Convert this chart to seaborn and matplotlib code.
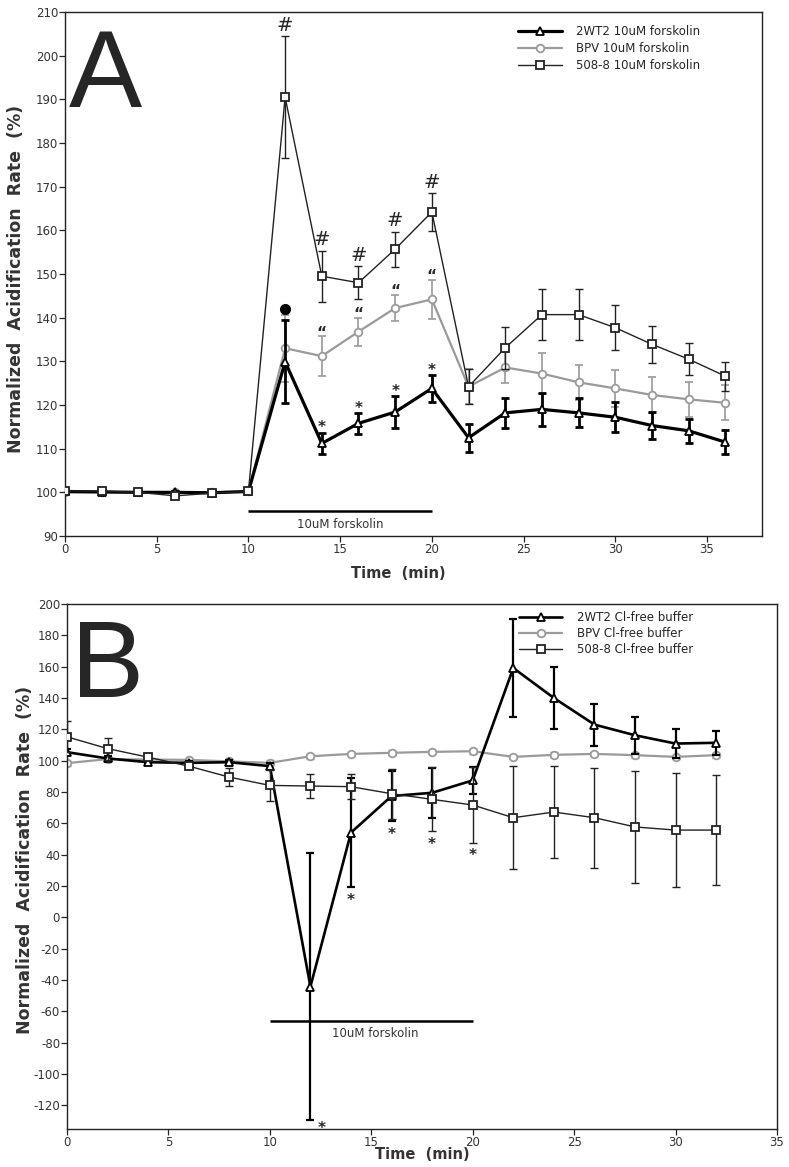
import numpy as np
import pandas as pd
import matplotlib
matplotlib.use("Agg")
import matplotlib.pyplot as plt
import seaborn as sns

# panel A: 10uM forskolin
time_a = [0, 2, 4, 6, 8, 10, 12, 14, 16, 18, 20, 22, 24, 26, 28, 30, 32, 34, 36]
wt_a = [100.2, 100.1, 100.0, 100.0, 99.9, 100.2, 129.9, 111.2, 115.8, 118.4, 123.8,
        112.5, 118.2, 119.0, 118.2, 117.2, 115.3, 114.1, 111.5]
wt_a_err = [0.4, 0.4, 0.3, 0.4, 0.3, 0.3, 9.5, 2.5, 2.4, 3.7, 3.0,
            3.2, 3.4, 3.7, 3.3, 3.4, 3.0, 2.8, 2.7]
bpv_a = [100.0, 100.0, 100.0, 100.0, 100.0, 100.2, 133.0, 131.2, 136.8, 142.2, 144.2,
         124.2, 128.6, 127.2, 125.2, 123.8, 122.3, 121.3, 120.5]
bpv_a_err = [0.3, 0.3, 0.3, 0.3, 0.3, 0.3, 7.7, 4.5, 3.2, 3.0, 4.5,
             4.0, 3.5, 4.6, 4.0, 4.2, 4.2, 4.0, 4.0]
sq_a = [100.3, 100.3, 100.0, 99.2, 99.8, 100.2, 190.5, 149.5, 148.0, 155.7, 164.2,
        124.2, 133.1, 140.7, 140.7, 137.7, 133.9, 130.5, 126.6]
sq_a_err = [0.3, 0.3, 0.3, 0.3, 0.3, 0.3, 14.0, 5.8, 3.8, 4.0, 4.3,
            4.0, 4.8, 5.8, 5.8, 5.2, 4.3, 3.7, 3.3]
labels_a = ["2WT2 10uM forskolin", "BPV 10uM forskolin", "508-8 10uM forskolin"]
hash_times_a = [12, 14, 16, 18, 20]
quote_times_a = [14, 16, 18, 20]
dot_times_a = [12]
star_times_a = [14, 16, 18, 20]

# panel B: Cl-free buffer
time_b = [0, 2, 4, 6, 8, 10, 12, 14, 16, 18, 20, 22, 24, 26, 28, 30, 32]
wt_b = [105.4, 101.4, 99.0, 98.6, 99.0, 96.5, -44.2, 54.1, 77.4, 79.5, 87.4,
        159.1, 140.0, 123.0, 116.2, 110.9, 111.4]
wt_b_err = [2.0, 1.5, 1.0, 1.0, 1.5, 2.0, 85.0, 35.0, 16.0, 16.0, 8.5,
            31.0, 20.0, 13.4, 11.9, 9.0, 7.5]
bpv_b = [98.4, 101.0, 100.7, 100.5, 99.5, 98.6, 102.8, 104.3, 105.0, 105.6, 106.0,
         102.4, 103.7, 104.3, 103.5, 102.4, 103.5]
bpv_b_err = [1.5] * 17
sq_b = [115.2, 107.7, 102.2, 96.5, 89.5, 84.2, 83.8, 83.4, 78.9, 75.3, 71.7,
        63.6, 67.2, 63.6, 57.7, 55.7, 55.7]
sq_b_err = [10.0, 7.0, 2.0, 2.0, 5.5, 10.0, 7.4, 8.0, 16.0, 20.5, 24.0,
            33.0, 29.5, 32.0, 36.0, 36.6, 35.0]
labels_b = ["2WT2 Cl-free buffer", "BPV Cl-free buffer", "508-8 Cl-free buffer"]
star_times_b = [12, 14, 16, 18, 20]

sns.set_style("ticks")
plt.rcParams['font.family'] = ['DejaVu Sans']
plt.rcParams['axes.unicode_minus'] = False

GRAY = "#9a9a9a"
DARK = "#333333"


def draw_series(ax, t, y, err, label, color, lw, marker, ms, elw, z):
    df = pd.DataFrame({"t": t, "y": y})
    ax.errorbar(t, y, yerr=err, fmt="none", ecolor=color, elinewidth=elw,
                capsize=3, capthick=elw, zorder=z)
    sns.lineplot(data=df, x="t", y="y", ax=ax, color=color, lw=lw, marker=marker,
                 markersize=ms, markerfacecolor="white", markeredgecolor=color,
                 markeredgewidth=1.3, label=label, zorder=z + 0.5)


def style_axes(ax, xlim, ylim, yticks, xlab_pos, ylab_pos):
    ax.set_xlim(*xlim)
    ax.set_ylim(*ylim)
    ax.set_xticks(range(0, 36, 5))
    ax.set_yticks(yticks)
    ax.tick_params(labelsize=8.5, labelcolor=DARK, length=4, width=0.9, pad=1)
    for s in ax.spines.values():
        s.set_visible(True)
        s.set_linewidth(1.0)
        s.set_color("#222222")
    ax.set_xlabel("Time  (min)", fontsize=10.5, fontweight="bold", color=DARK)
    ax.set_ylabel("Normalized  Acidification  Rate  (%)", fontsize=12.5,
                  fontweight="bold", color=DARK)
    ax.xaxis.set_label_coords(*xlab_pos)
    ax.yaxis.set_label_coords(*ylab_pos)


fig = plt.figure(figsize=(7.89, 11.67), dpi=100)
ax_a = fig.add_axes([0.0824, 0.5407, 0.8834, 0.4490])
ax_b = fig.add_axes([0.0849, 0.0326, 0.8999, 0.4499])

# ---- panel A ----
draw_series(ax_a, time_a, bpv_a, bpv_a_err, labels_a[1], GRAY, 1.6, "o", 5.5, 1.2, 2)
draw_series(ax_a, time_a, wt_a, wt_a_err, labels_a[0], "black", 2.3, "^", 5.5, 2.0, 3)
draw_series(ax_a, time_a, sq_a, sq_a_err, labels_a[2], "#222222", 1.0, "s", 6, 1.0, 4)
style_axes(ax_a, (0, 38), (90, 210), range(90, 211, 10), (0.478, -0.057), (-0.058, 0.491))

for t in hash_times_a:
    i = time_a.index(t)
    ax_a.annotate("#", (t, sq_a[i] + sq_a_err[i]), xytext=(0, 1), textcoords="offset points",
                  ha="center", va="bottom", fontsize=14)
for t in quote_times_a:
    i = time_a.index(t)
    ax_a.annotate("\u201c", (t, bpv_a[i] + bpv_a_err[i]), xytext=(0, -3), textcoords="offset points",
                  ha="center", va="bottom", fontsize=11, fontweight="bold")
for t in dot_times_a:
    i = time_a.index(t)
    ax_a.plot(t, bpv_a[i] + bpv_a_err[i] + 1.4, "o", color="black", ms=7, zorder=6)
for t in star_times_a:
    i = time_a.index(t)
    ax_a.annotate("*", (t, wt_a[i] + wt_a_err[i]), xytext=(0, -2), textcoords="offset points",
                  ha="center", va="bottom", fontsize=11, fontweight="bold")

ax_a.hlines(95.7, 10, 20, color="black", lw=1.8)
ax_a.text(15, 92.6, "10uM forskolin", ha="center", va="center", fontsize=8.5, color=DARK)
ax_a.text(0.006, 0.819, "A", transform=ax_a.transAxes, fontsize=79,
          family=["Liberation Sans"], va="baseline", ha="left")

h, l = ax_a.get_legend_handles_labels()
order = [l.index(s) for s in labels_a]
ax_a.legend([h[i] for i in order], [l[i] for i in order], loc="upper left",
            bbox_to_anchor=(0.642, 0.987), frameon=False, fontsize=8.5, borderpad=0,
            handlelength=3.7, handletextpad=1.2, labelspacing=0.35)

# ---- panel B ----
draw_series(ax_b, time_b, bpv_b, bpv_b_err, labels_b[1], GRAY, 1.6, "o", 5.5, 1.0, 2)
draw_series(ax_b, time_b, wt_b, wt_b_err, labels_b[0], "black", 1.9, "^", 5.5, 1.6, 3)
draw_series(ax_b, time_b, sq_b, sq_b_err, labels_b[2], "#222222", 1.0, "s", 6, 1.0, 4)
style_axes(ax_b, (0, 35), (-135, 200), range(-120, 201, 20), (0.5, -0.035), (-0.047, 0.512))

for t in star_times_b:
    i = time_b.index(t)
    low = min(wt_b[i] - wt_b_err[i], sq_b[i] - sq_b_err[i])
    if t == 12:
        ax_b.annotate("*", (t, low), xytext=(5, -6), textcoords="offset points",
                      ha="left", va="center", fontsize=11, fontweight="bold")
    else:
        ax_b.annotate("*", (t, low), xytext=(0, -4), textcoords="offset points",
                      ha="center", va="top", fontsize=11, fontweight="bold")

ax_b.hlines(-66.4, 10, 20, color="black", lw=1.8)
ax_b.text(15.2, -74.3, "10uM forskolin", ha="center", va="center", fontsize=8.5, color=DARK)
ax_b.text(0.006, 0.823, "B", transform=ax_b.transAxes, fontsize=79,
          family=["Liberation Sans"], va="baseline", ha="left")

h, l = ax_b.get_legend_handles_labels()
order = [l.index(s) for s in labels_b]
ax_b.legend([h[i] for i in order], [l[i] for i in order], loc="upper left",
            bbox_to_anchor=(0.628, 0.997), frameon=False, fontsize=8.5, borderpad=0,
            handlelength=3.7, handletextpad=1.2, labelspacing=0.25)

fig.savefig("out.png", dpi=100)
